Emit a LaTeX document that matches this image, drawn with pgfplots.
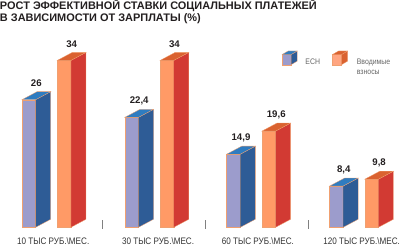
\documentclass[border=0pt]{standalone}
\usepackage{fontspec}
\setmainfont{Liberation Sans}
\newfontfamily\narrowfont[FakeStretch=0.86]{Liberation Sans}
\usepackage{pgfplots}
\pgfplotsset{compat=1.18}

\definecolor{echfront}{HTML}{9C9CCC}
\definecolor{echside}{HTML}{2E5C96}
\definecolor{echtop}{HTML}{2F7CC0}
\definecolor{echedge}{HTML}{8AD4EA}
\definecolor{orfront}{HTML}{FF9A66}
\definecolor{orside}{HTML}{D23A33}
\definecolor{ortop}{HTML}{DA6230}
\definecolor{oredge}{HTML}{F0A070}
\definecolor{titlec}{HTML}{231F20}
\definecolor{labc}{HTML}{333333}
\definecolor{legc}{HTML}{666666}

% x0, ybase, ytop, w, dx, dy, front, side, top ; edge colour in \edgec
\newcommand{\cube}[9]{%
  \pgfmathsetmacro\xa{#1}\pgfmathsetmacro\xb{#1+#4}%
  \pgfmathsetmacro\xc{#1+#4+#5}\pgfmathsetmacro\xd{#1+#5}%
  \pgfmathsetmacro\yb{#2}\pgfmathsetmacro\yt{#3}%
  \pgfmathsetmacro\ybb{#2+#6}\pgfmathsetmacro\ytt{#3+#6}%
  \addplot[fill=#7, draw=\edgec, line width=0.3pt] coordinates {(\xa,\yb) (\xb,\yb) (\xb,\yt) (\xa,\yt)} -- cycle;
  \addplot[fill=#8, draw=\edgec, line width=0.3pt] coordinates {(\xb,\yb) (\xc,\ybb) (\xc,\ytt) (\xb,\yt)} -- cycle;
  \addplot[fill=#9, draw=\edgec, line width=0.3pt] coordinates {(\xa,\yt) (\xb,\yt) (\xc,\ytt) (\xd,\ytt)} -- cycle;
}
\newcommand{\ech}[2]{\def\edgec{echedge}\cube{#1}{0}{#2}{13.5}{15}{1.643}{echfront}{echside}{echtop}}
\newcommand{\vzn}[2]{\def\edgec{oredge}\cube{#1}{0}{#2}{13.5}{15}{1.643}{orfront}{orside}{ortop}}

\begin{document}
\begin{tikzpicture}
\begin{axis}[
  scale only axis, width=400bp, height=249bp,
  xmin=0, xmax=400, ymin=-4.58, ymax=46.55,
  hide axis, clip=false,
]
% ECH series: 26, 22.4, 14.9, 8.4
\ech{22}{26}
\ech{124}{22.4}
\ech{225}{14.9}
\ech{327}{8.4}
% Vvodimye vznosy: 34, 34, 19.6, 9.8
\vzn{57}{34}
\vzn{159}{34}
\vzn{260}{19.6}
\vzn{362}{9.8}
% legend cubes
\def\edgec{echedge}
\cube{280}{33.13}{35.2}{9}{6}{0.72}{echfront}{echside}{echtop}
\def\edgec{oredge}
\cube{330}{33.13}{35.2}{9}{6}{0.72}{orfront!70!pink}{ortop}{ortop}
% separators
\addplot[gray, line width=0.5pt] coordinates {(102,-0.27) (102,1.58)};
\addplot[gray, line width=0.5pt] coordinates {(204,-0.27) (204,1.58)};
\addplot[gray, line width=0.5pt] coordinates {(306,-0.27) (306,1.58)};

% value labels
\begin{scope}[every node/.style={font=\bfseries\fontsize{9.6}{11}\selectfont, text=titlec, inner sep=0pt}]
\node at (axis cs:36.25,29.3) {26};
\node at (axis cs:138.25,25.7) {22,4};
\node at (axis cs:239.25,18.2) {14,9};
\node at (axis cs:341.25,11.7) {8,4};
\node at (axis cs:71.25,37.3) {34};
\node at (axis cs:173.25,37.3) {34};
\node at (axis cs:274.25,22.9) {19,6};
\node at (axis cs:376.25,13.1) {9,8};
\end{scope}

% title
\node[anchor=base west, inner sep=0pt, text=titlec, font=\bfseries\fontsize{10.9}{12}\selectfont] at (axis cs:0,44.29) {РОСТ ЭФФЕКТИВНОЙ СТАВКИ СОЦИАЛЬНЫХ ПЛАТЕЖЕЙ};
\node[anchor=base west, inner sep=0pt, text=titlec, font=\bfseries\fontsize{10.9}{12}\selectfont] at (axis cs:0,41.89) {В ЗАВИСИМОСТИ ОТ ЗАРПЛАТЫ (\%)};

% category labels
\begin{scope}[every node/.style={anchor=base, inner sep=0pt, text=labc, font=\narrowfont\fontsize{9.4}{11}\selectfont}]
\node at (axis cs:53,-3.45) {10 ТЫС РУБ.\textbackslash МЕС.};
\node at (axis cs:157,-3.45) {30 ТЫС РУБ.\textbackslash МЕС.};
\node at (axis cs:256,-3.45) {60 ТЫС РУБ.\textbackslash МЕС.};
\node at (axis cs:359,-3.45) {120 ТЫС РУБ.\textbackslash МЕС.};
\end{scope}

% legend text
\begin{scope}[every node/.style={anchor=base west, inner sep=0pt, text=legc, font=\narrowfont\fontsize{8}{9}\selectfont}]
\node at (axis cs:303,33.24) {ЕСН};
\node at (axis cs:354,33.24) {Вводимые};
\node at (axis cs:354,31.2) {взносы};
\end{scope}
\end{axis}
\end{tikzpicture}
\end{document}
